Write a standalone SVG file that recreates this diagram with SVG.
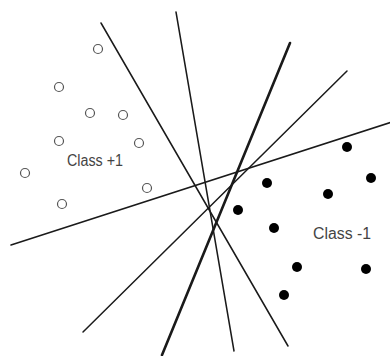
<svg xmlns="http://www.w3.org/2000/svg" width="390" height="356" viewBox="0 0 390 356">
<style>
.ln{stroke:#1a1a1a;stroke-width:1.5;fill:none;stroke-linecap:round}
.thick{stroke-width:2.6}
.pos{fill:none;stroke:#555;stroke-width:1.2}
.neg{fill:#000}
.lbl{font-family:"Liberation Sans",Arial,sans-serif;font-size:16px;fill:#444}
</style>
<rect width="390" height="356" fill="#fff"/>
<g id="connectors">
<line class="ln" x1="101" y1="23" x2="288" y2="346"/>
<line class="ln" x1="176" y1="12" x2="234" y2="351"/>
<line class="ln thick" x1="290" y1="43" x2="162" y2="355"/>
<line class="ln" x1="347" y1="71" x2="83" y2="332"/>
<line class="ln" x1="11" y1="245" x2="392" y2="122"/>
</g>
<g id="class-pos">
<circle class="pos" cx="98" cy="49" r="4.5"/>
<circle class="pos" cx="59" cy="87" r="4.5"/>
<circle class="pos" cx="90" cy="113" r="4.5"/>
<circle class="pos" cx="123" cy="115" r="4.5"/>
<circle class="pos" cx="59" cy="141" r="4.5"/>
<circle class="pos" cx="139" cy="143" r="4.5"/>
<circle class="pos" cx="25" cy="173" r="4.5"/>
<circle class="pos" cx="147" cy="188" r="4.5"/>
<circle class="pos" cx="62" cy="204" r="4.5"/>
<text class="lbl" x="67" y="166" textLength="56" lengthAdjust="spacingAndGlyphs">Class +1</text>
</g>
<g id="class-neg">
<circle class="neg" cx="347" cy="147" r="5"/>
<circle class="neg" cx="371" cy="178" r="5"/>
<circle class="neg" cx="267" cy="183" r="5"/>
<circle class="neg" cx="328" cy="194" r="5"/>
<circle class="neg" cx="238" cy="210" r="5"/>
<circle class="neg" cx="274" cy="228" r="5"/>
<circle class="neg" cx="297" cy="267" r="5"/>
<circle class="neg" cx="366" cy="269" r="5"/>
<circle class="neg" cx="284" cy="295" r="5"/>
<text class="lbl" x="313" y="238.5" textLength="58" lengthAdjust="spacingAndGlyphs">Class -1</text>
</g>
</svg>
